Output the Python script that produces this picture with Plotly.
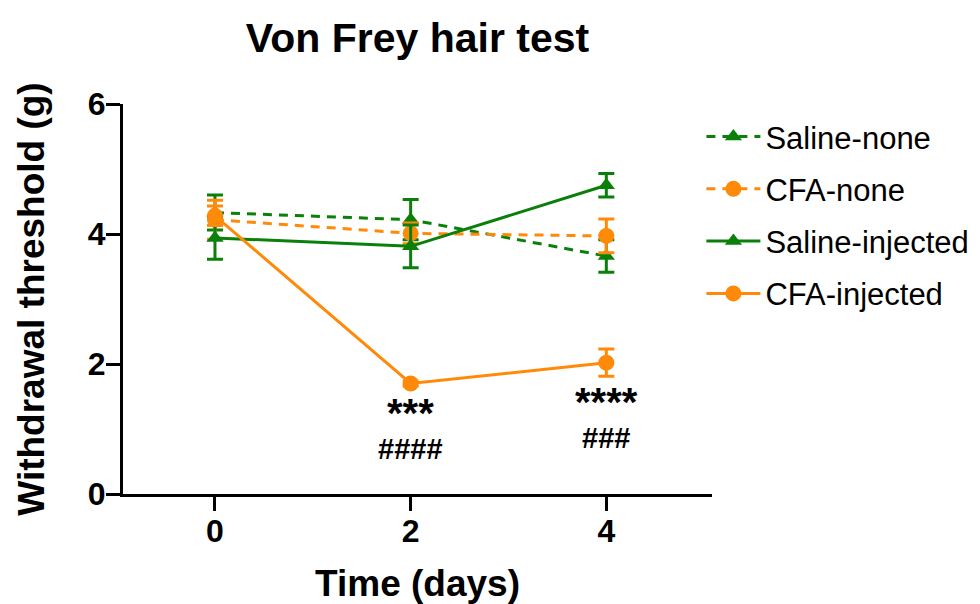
import plotly.graph_objects as go

days = [0, 2, 4]
saline_none = [4.33, 4.22, 3.66]
saline_none_err = [0.27, 0.31, 0.25]
cfa_none = [4.22, 4.01, 3.97]
cfa_none_err = [0.30, 0.16, 0.26]
saline_inj = [3.94, 3.81, 4.75]
saline_inj_err = [0.33, 0.33, 0.18]
cfa_inj = [4.28, 1.70, 2.02]
cfa_inj_err = [0.15, 0.04, 0.21]

sig_x = [2, 2, 4, 4]
sig_y = [1.25, 0.69, 1.42, 0.86]
sig_text = ["***", "####", "****", "###"]

GREEN = "#0A800A"
ORANGE = "#FF8A0A"
FONT = "Liberation Sans"

series = [
    ("Saline-none", saline_none, saline_none_err, GREEN, "triangle-up", "9px,7px"),
    ("CFA-none", cfa_none, cfa_none_err, ORANGE, "circle", "9px,7px"),
    ("Saline-injected", saline_inj, saline_inj_err, GREEN, "triangle-up", "solid"),
    ("CFA-injected", cfa_inj, cfa_inj_err, ORANGE, "circle", "solid"),
]

fig = go.Figure()
for name, y, e, col, sym, dash in series:
    fig.add_trace(go.Scatter(
        x=days, y=y, name=name, mode="lines+markers", legendgroup=name,
        line=dict(color=col, width=3, dash=dash),
        marker=dict(symbol=sym, size=16 if sym == "circle" else 15, color=col),
        error_y=dict(type="data", array=e, visible=True, color=col, thickness=3, width=8),
    ))

for x, y, t in zip(sig_x, sig_y, sig_text):
    big = t.startswith("*")
    fig.add_annotation(x=x, y=y, text=t, showarrow=False, xref="x", yref="y",
                       font=dict(family=FONT, size=40 if big else 29, color="black", weight="bold"),
                       yanchor="middle")

fig.update_layout(
    width=980, height=604,
    margin=dict(l=123, r=268, t=104, b=110, autoexpand=False),
    paper_bgcolor="white", plot_bgcolor="white",
    title=dict(text="Von Frey hair test", x=0.5, xref="paper", y=1 - 38 / 604, yanchor="middle",
               font=dict(family=FONT, size=41, color="black", weight="bold")),
    showlegend=True,
    legend=dict(x=0.982, xanchor="left", y=0.985, yanchor="top", traceorder="grouped",
                tracegroupgap=9, itemwidth=54, font=dict(family=FONT, size=31, color="black"),
                bgcolor="rgba(0,0,0,0)"),
    font=dict(family=FONT, color="black"),
)
fig.update_xaxes(range=[-0.94, 5.08], tickvals=[0, 2, 4], ticks="outside", ticklen=14, tickwidth=3,
                 tickcolor="black", showline=True, linecolor="black", linewidth=3, showgrid=False,
                 zeroline=False, automargin=False, ticklabelstandoff=-7,
                 tickfont=dict(family=FONT, size=32, color="black", weight="bold"),
                 title=dict(text="Time (days)", standoff=22,
                            font=dict(family=FONT, size=37, color="black", weight="bold")))
fig.update_yaxes(range=[0, 6], tickvals=[0, 2, 4, 6], ticks="outside", ticklen=14, tickwidth=3,
                 tickcolor="black", showline=True, linecolor="black", linewidth=3, showgrid=False,
                 zeroline=False, automargin=False, ticklabelstandoff=-6,
                 tickfont=dict(family=FONT, size=32, color="black", weight="bold"),
                 title=dict(text="Withdrawal threshold (g)", standoff=32,
                            font=dict(family=FONT, size=37, color="black", weight="bold")))

fig.write_html("out.html")
